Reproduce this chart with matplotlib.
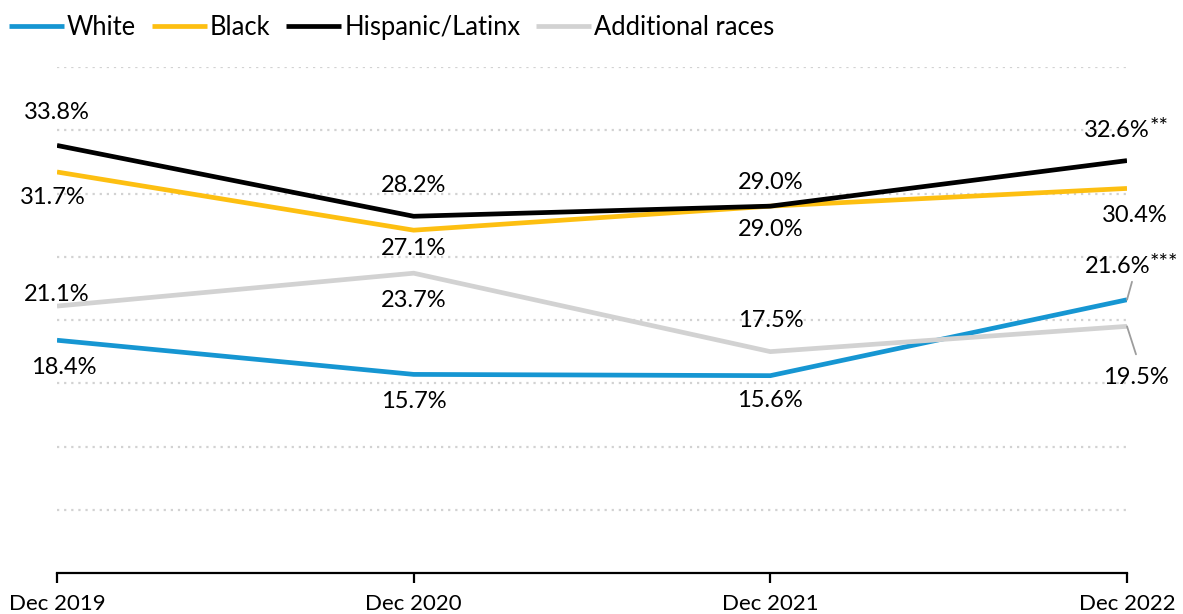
import matplotlib
matplotlib.use("Agg")
import matplotlib.pyplot as plt

plt.rcParams["font.family"] = ["Lato", "DejaVu Sans"]

# Données
dates = ["Dec 2019", "Dec 2020", "Dec 2021", "Dec 2022"]
white = [18.4, 15.7, 15.6, 21.6]
black = [31.7, 27.1, 29.0, 30.4]
hispanic = [33.8, 28.2, 29.0, 32.6]
additional = [21.1, 23.7, 17.5, 19.5]
grid_values = [5, 10, 15, 20, 25, 30, 35, 40]

series = [
    ("White", white, "#1696d2"),
    ("Black", black, "#fdbf11"),
    ("Hispanic/Latinx", hispanic, "#000000"),
    ("Additional races", additional, "#d2d2d2"),
]

# décalages des étiquettes (pixels) par série et par date
offsets = {
    "White": [(7, -27), (0, -27), (0, -25), None],
    "Black": [(-4, -26), (0, -18), (0, -23), (8, -27)],
    "Hispanic/Latinx": [(0, 33), (0, 31), (0, 24), None],
    "Additional races": [(0, 12), (0, -27), (0, 31), (9, -51)],
}

FS = 17

fig = plt.figure(figsize=(11.83, 6.14), dpi=100)
ax = fig.add_axes([57 / 1183, 41 / 614, 1070 / 1183, 506 / 614])

x = list(range(len(dates)))
for gv in grid_values:
    ax.axhline(gv, color="#d2d2d2", lw=1.6, ls=(0, (1, 2.2)), zorder=0)

handles = []
for name, vals, color in series:
    line, = ax.plot(x, vals, color=color, lw=3.4, solid_capstyle="butt",
                    label=name, zorder=3)
    handles.append(line)
    for i, v in enumerate(vals):
        off = offsets[name][i]
        if off is None:
            continue
        ax.annotate(f"{v:.1f}%", (i, v), xytext=off, textcoords="offset pixels",
                    ha="center", va="center", fontsize=FS, color="#000000",
                    zorder=5, annotation_clip=False)

# étiquettes avec astérisques (fin de série)
for vals, stars, dy in [(hispanic, "**", 30), (white, "***", 33)]:
    ax.annotate(f"{vals[-1]:.1f}%", (3, vals[-1]), xytext=(23, dy),
                textcoords="offset pixels", ha="right", va="center",
                fontsize=FS, annotation_clip=False)
    ax.annotate(stars, (3, vals[-1]), xytext=(23, dy + 14),
                textcoords="offset pixels", ha="left", va="top",
                fontsize=16, annotation_clip=False)

# traits de rappel
ax.annotate("", (3, white[-1]), xytext=(5, 18), textcoords="offset pixels",
            arrowprops=dict(arrowstyle="-", color="#9d9d9d", lw=1.3,
                            shrinkA=0, shrinkB=0), annotation_clip=False)
ax.annotate("", (3, additional[-1]), xytext=(9, -28), textcoords="offset pixels",
            arrowprops=dict(arrowstyle="-", color="#9d9d9d", lw=1.3,
                            shrinkA=0, shrinkB=0), annotation_clip=False)

ax.set_xlim(0, 3)
ax.set_ylim(0, 40)
ax.set_xticks(x)
ax.set_xticklabels(dates, fontsize=16)
ax.set_yticks([])
for side in ["top", "right", "left"]:
    ax.spines[side].set_visible(False)
ax.spines["bottom"].set_linewidth(1.6)
ax.tick_params(axis="x", length=7, width=1.6, pad=8)

fig.legend(handles=handles, loc="upper left", bbox_to_anchor=(0.0, 0.99),
           ncol=4, frameon=False, fontsize=18.4, handlelength=2.15,
           handletextpad=0.12, columnspacing=0.62, borderaxespad=0.0,
           borderpad=0.35)

fig.savefig("out.png", dpi=100)
